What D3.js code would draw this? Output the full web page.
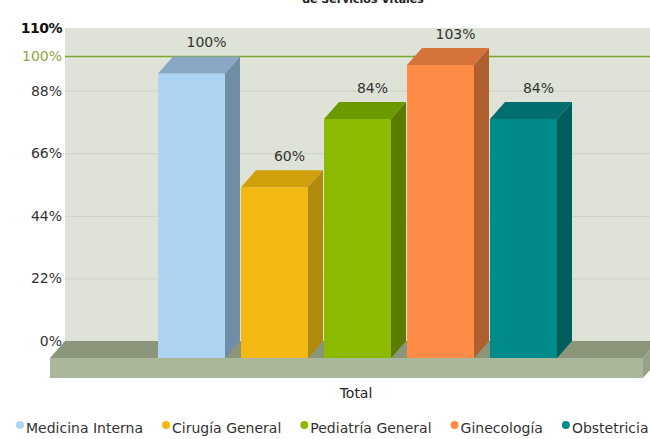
<!DOCTYPE html>
<meta charset="utf-8">
<title>Servicios</title>
<style>
body { margin: 0; background: #fff; }
text { font-family: "DejaVu Sans", Verdana, sans-serif; }
</style>
<script src="https://cdn.jsdelivr.net/npm/d3@7"></script>
<div id="chart"></div>
<script>

// data
var categories = ["Medicina Interna", "Cirugía General", "Pediatría General", "Ginecología", "Obstetricia"];
var values = [100, 60, 84, 103, 84];
var yTicks = [0, 22, 44, 66, 88, 110];
var target = 100;
var groupLabel = "Total";
var title = "de Servicios Vitales";

var fronts = ["#aed4f4", "#f4b812", "#8cba00", "#fe8c46", "#008b8b"],
    tops   = ["#8aa8c6", "#d0a00c", "#6c9800", "#d5733a", "#006e6e"],
    sides  = ["#6f8da6", "#b08a0c", "#5a7c00", "#b05f2e", "#005e5e"];

var width = 650, height = 439,
    dx = 15, dy = 17;          // 3d depth offset

var svg = d3.select("#chart").append("svg")
    .attr("width", width)
    .attr("height", height);

var y = d3.scaleLinear()
    .domain([0, 110])
    .range([341, 28]);

var x = d3.scaleBand()
    .domain(categories)
    .range([173, 572])
    .paddingInner(16 / 83);

var wallL = 65, wallR = 658;

// title (cut at top, as in the source image)
svg.append("text")
    .attr("x", 363).attr("y", 3)
    .attr("text-anchor", "middle")
    .style("font-size", "11px").style("font-weight", "bold")
    .attr("fill", "#222")
    .text(title);

// back wall
svg.append("rect")
    .attr("x", wallL).attr("y", y(110))
    .attr("width", wallR - wallL).attr("height", y(0) - y(110))
    .attr("fill", "#dfe3d7");

// grid lines
svg.selectAll(".grid")
    .data(yTicks.filter(function(d) { return d > 0 && d < 110; }))
    .enter().append("line")
    .attr("x1", wallL).attr("x2", wallR)
    .attr("y1", function(d) { return y(d) + 0.5; })
    .attr("y2", function(d) { return y(d) + 0.5; })
    .attr("stroke", "#ccd2c3");

// target line
svg.append("line")
    .attr("x1", wallL).attr("x2", wallR)
    .attr("y1", y(target)).attr("y2", y(target))
    .attr("stroke", "#7ea52c")
    .attr("stroke-width", 1.6);

// floor
var f0 = y(0);
svg.append("polygon")
    .attr("points", [[wallL, f0], [wallR, f0], [wallR - dx, f0 + dy], [wallL - dx, f0 + dy]].join(" "))
    .attr("fill", "#8a957a");
svg.append("rect")
    .attr("x", wallL - dx).attr("y", f0 + dy)
    .attr("width", wallR - wallL).attr("height", 20)
    .attr("fill", "#a9b89a");
svg.append("polygon")
    .attr("points", [[wallR - dx, f0 + dy], [wallR, f0], [wallR, f0 + 20], [wallR - dx, f0 + dy + 20]].join(" "))
    .attr("fill", "#95a287");

// y labels
svg.selectAll(".ylab")
    .data(yTicks)
    .enter().append("text")
    .attr("x", 62)
    .attr("y", function(d) { return y(d) + 5; })
    .attr("text-anchor", "end")
    .style("font-size", "14px")
    .style("font-weight", function(d) { return d == 110 ? "bold" : "normal"; })
    .style("letter-spacing", function(d) { return d == 110 ? "-0.5px" : "0"; })
    .attr("fill", function(d) { return d == 110 ? "#111" : "#333"; })
    .text(function(d) { return d + "%"; });

svg.append("text")
    .attr("x", 62).attr("y", y(target) + 5)
    .attr("text-anchor", "end")
    .style("font-size", "14px")
    .attr("fill", "#8fa445")
    .text(target + "%");

// bars
var bw = x.bandwidth();
var bars = svg.selectAll(".bar")
    .data(values)
    .enter().append("g");

bars.append("rect")
    .attr("x", function(d, i) { return x(categories[i]) - dx; })
    .attr("y", function(d) { return y(d) + dy; })
    .attr("width", bw)
    .attr("height", function(d) { return y(0) - y(d); })
    .attr("fill", function(d, i) { return fronts[i]; });

bars.append("polygon")
    .attr("points", function(d, i) {
      var xb = x(categories[i]), yt = y(d);
      return [[xb - dx, yt + dy], [xb, yt], [xb + bw, yt], [xb + bw - dx, yt + dy]].join(" ");
    })
    .attr("fill", function(d, i) { return tops[i]; });

bars.append("polygon")
    .attr("points", function(d, i) {
      var xb = x(categories[i]), yt = y(d);
      return [[xb + bw - dx, yt + dy], [xb + bw, yt], [xb + bw, y(0)], [xb + bw - dx, y(0) + dy]].join(" ");
    })
    .attr("fill", function(d, i) { return sides[i]; });

bars.append("text")
    .attr("x", function(d, i) { return x(categories[i]) + bw / 2; })
    .attr("y", function(d) { return y(d) - 9; })
    .attr("text-anchor", "middle")
    .style("font-size", "14px")
    .attr("fill", "#333")
    .text(function(d) { return d + "%"; });

// category label
svg.append("text")
    .attr("x", 356).attr("y", 398)
    .attr("text-anchor", "middle")
    .style("font-size", "14px")
    .attr("fill", "#222")
    .text(groupLabel);

// legend
var lx = 20;
categories.forEach(function(c, i) {
  var g = svg.append("g");
  g.append("circle")
      .attr("cx", lx).attr("cy", 425).attr("r", 4)
      .attr("fill", fronts[i]);
  var t = g.append("text")
      .attr("x", lx + 6).attr("y", 433)
      .style("font-size", "14px")
      .attr("fill", "#333")
      .text(c);
  lx += 6 + t.node().getComputedTextLength() + 23;
});

</script>
